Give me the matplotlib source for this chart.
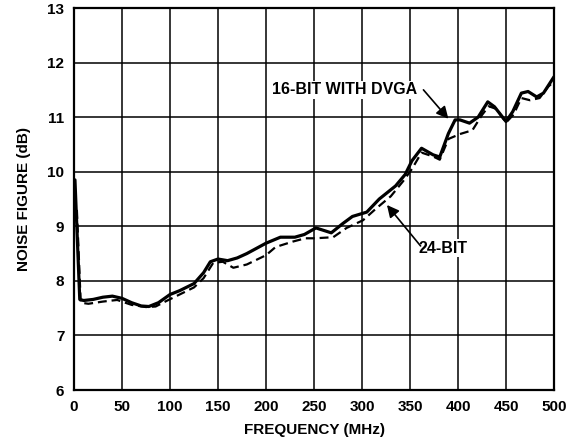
import matplotlib
matplotlib.use('Agg')
import matplotlib.pyplot as plt

# 16-bit with DVGA (solid)
f16 = [1, 6, 10, 20, 30, 40, 50, 60, 70, 78, 88, 100, 110, 125, 135, 142, 150, 160, 170,
       180, 200, 215, 230, 240, 252, 268, 280, 290, 305, 318, 335, 345, 352, 362, 374, 381,
       390, 397, 402, 412, 421, 431, 438, 450, 457, 466, 473, 482, 489, 500]
nf16 = [9.85, 7.66, 7.64, 7.66, 7.7, 7.72, 7.68, 7.6, 7.54, 7.53, 7.6, 7.75, 7.82, 7.95, 8.15,
        8.35, 8.4, 8.37, 8.42, 8.5, 8.69, 8.8, 8.8, 8.85, 8.97, 8.88, 9.05, 9.18, 9.26, 9.5,
        9.74, 9.95, 10.2, 10.43, 10.31, 10.27, 10.7, 10.95, 10.95, 10.89, 11.0, 11.28, 11.19,
        10.92, 11.1, 11.44, 11.47, 11.37, 11.44, 11.74]

# 24-bit (dashed)
f24 = [3, 7, 15, 30, 45, 60, 75, 85, 95, 110, 125, 135, 145, 155, 166, 180, 200, 210, 228,
       241, 251, 270, 284, 301, 315, 330, 343, 352, 362, 374, 381, 390, 402, 415, 425, 432,
       440, 450, 458, 466, 475, 485, 494, 500]
nf24 = [9.3, 7.6, 7.58, 7.62, 7.65, 7.56, 7.52, 7.53, 7.62, 7.75, 7.88, 8.05, 8.33, 8.35, 8.24,
        8.3, 8.47, 8.62, 8.72, 8.78, 8.78, 8.8, 8.97, 9.11, 9.33, 9.55, 9.83, 10.05, 10.35, 10.28,
        10.22, 10.6, 10.69, 10.76, 11.04, 11.2, 11.15, 10.9, 11.05, 11.35, 11.31, 11.35, 11.56, 11.65]

xticks = [0, 50, 100, 150, 200, 250, 300, 350, 400, 450, 500]
yticks = [6, 7, 8, 9, 10, 11, 12, 13]

plt.rcParams['font.family'] = ['Liberation Sans', 'DejaVu Sans']
plt.rcParams['font.weight'] = 'bold'

fig = plt.figure(figsize=(5.84, 4.48), dpi=100)
ax = fig.add_axes([74/584, 58/448, 480/584, 382/448])

ax.plot(f16, nf16, color='black', lw=2.3, solid_joinstyle='round', solid_capstyle='round', zorder=3)
ax.plot(f24, nf24, color='black', lw=1.6, linestyle=(0, (4, 2.2)), zorder=3)

ax.set_xlim(0, 500)
ax.set_ylim(6, 13)
ax.set_xticks(xticks)
ax.set_yticks(yticks)
ax.grid(True, color='black', lw=1.1)
ax.tick_params(length=0, labelsize=11, pad=7)
for lab in ax.get_xticklabels() + ax.get_yticklabels():
    lab.set_fontweight('bold')
for s in ax.spines.values():
    s.set_linewidth(1.6)

ax.set_xlabel('FREQUENCY (MHz)', fontsize=11, fontweight='bold', labelpad=7)
ax.set_ylabel('NOISE FIGURE (dB)', fontsize=11, fontweight='bold', labelpad=12)

ax.text(282, 11.5, '16-BIT WITH DVGA', fontsize=11.5, fontweight='bold', ha='center', va='center',
        bbox=dict(facecolor='white', edgecolor='none', pad=1))
ax.annotate('', xy=(390, 10.97), xytext=(364, 11.5),
            arrowprops=dict(arrowstyle='-|>', color='black', lw=1.2, mutation_scale=18,
                            shrinkA=0, shrinkB=0))
ax.text(359, 8.6, '24-BIT', fontsize=11.5, fontweight='bold', ha='left', va='center',
        bbox=dict(facecolor='white', edgecolor='none', pad=1))
ax.annotate('', xy=(326, 9.39), xytext=(361, 8.64),
            arrowprops=dict(arrowstyle='-|>', color='black', lw=1.2, mutation_scale=18,
                            shrinkA=0, shrinkB=0))

fig.savefig('out.png', dpi=100)
